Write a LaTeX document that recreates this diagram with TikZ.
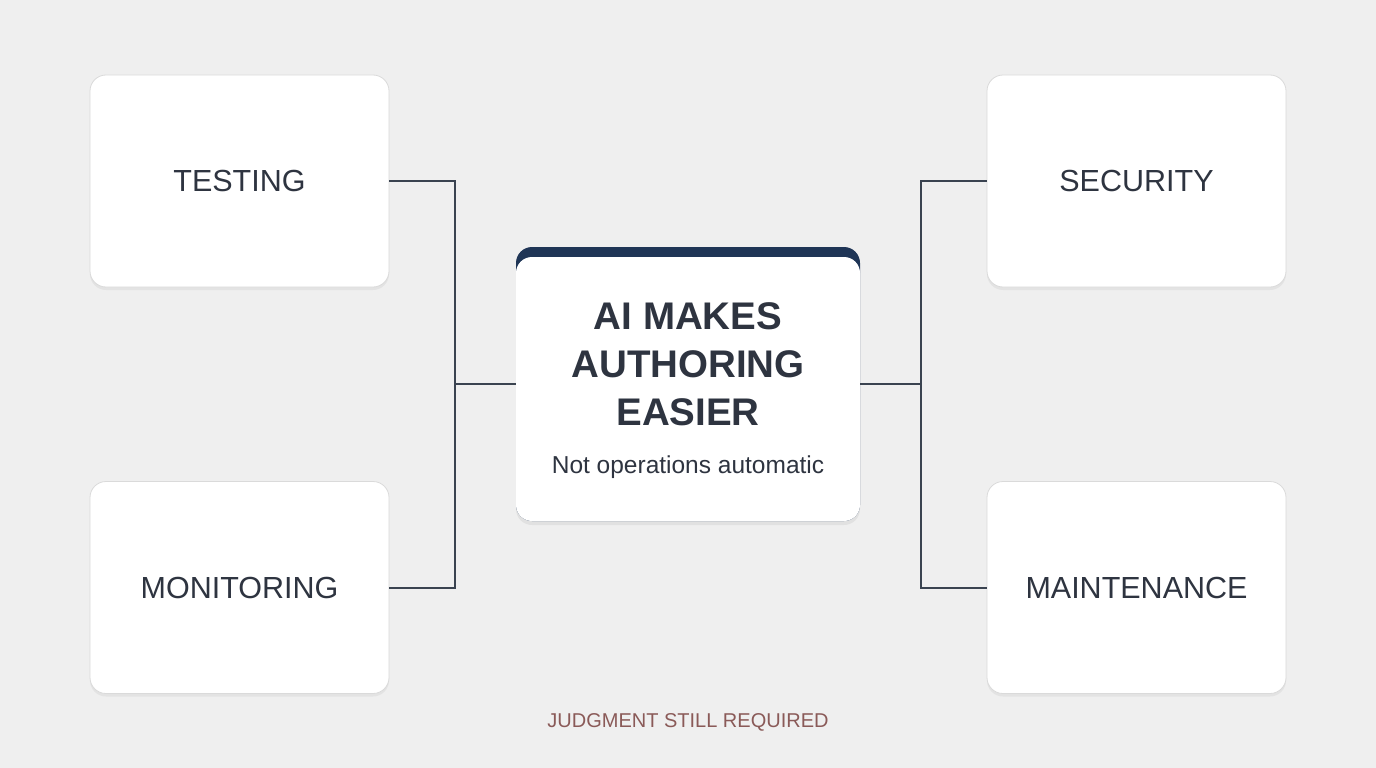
\documentclass[tikz,border=0pt]{standalone}
\usepackage{fontspec}
\setmainfont{Liberation Sans}
\usetikzlibrary{shadows}
\definecolor{bg}{HTML}{EFEFEF}
\definecolor{ink}{HTML}{2E3440}
\definecolor{wire}{HTML}{3A4350}
\definecolor{navy}{HTML}{1F3556}
\definecolor{rim}{HTML}{DADADA}
\definecolor{note}{HTML}{8A5A58}
\tikzset{
  card/.style={draw=rim, line width=0.8pt, fill=white, rounded corners=16pt,
    minimum width=299pt, minimum height=212pt, inner sep=0pt,
    drop shadow={opacity=0.10, shadow xshift=0pt, shadow yshift=-3pt},
    font=\fontsize{30.5}{36}\selectfont, text=ink},
  link/.style={draw=wire, line width=2pt},
}
\begin{document}
\begin{tikzpicture}[x=1pt,y=-1pt]
\fill[bg] (0,0) rectangle (1376,768);
\useasboundingbox (0,0) rectangle (1376,768);
% side cards
\node[card] (testing) at (239.5,181) {TESTING};
\node[card] (monitoring) at (239.5,587.5) {MONITORING};
\node[card] (security) at (1136.5,181) {SECURITY};
\node[card] (maintenance) at (1136.5,587.5) {MAINTENANCE};
% center card
\node[draw=none, fill=navy, rounded corners=16pt, minimum width=344pt, minimum height=274pt,
  inner sep=0pt, drop shadow={opacity=0.12, shadow xshift=0pt, shadow yshift=-4pt}] (ctr) at (688,384) {};
\fill[white, rounded corners=16pt] (516,257) rectangle (860,521);
\node[font=\fontsize{38.5}{48}\selectfont\bfseries, text=ink, align=center] (title) at (688,364.5)
  {AI MAKES\\AUTHORING\\EASIER};
\node[font=\fontsize{24.5}{28}\selectfont, text=ink] (sub) at (688,467) {Not operations automatic};
% connectors
\coordinate (jl) at (455,384);
\coordinate (jr) at (921,384);
\draw[link] (testing.east) -- (testing.east -| jl) -- (monitoring.east -| jl) -- (monitoring.east);
\draw[link] (jl) -- (ctr.west);
\draw[link] (security.west) -- (security.west -| jr) -- (maintenance.west -| jr) -- (maintenance.west);
\draw[link] (jr) -- (ctr.east);
% footer
\node[font=\fontsize{20}{24}\selectfont, text=note] (foot) at (688,722) {JUDGMENT STILL REQUIRED};
\end{tikzpicture}
\end{document}
